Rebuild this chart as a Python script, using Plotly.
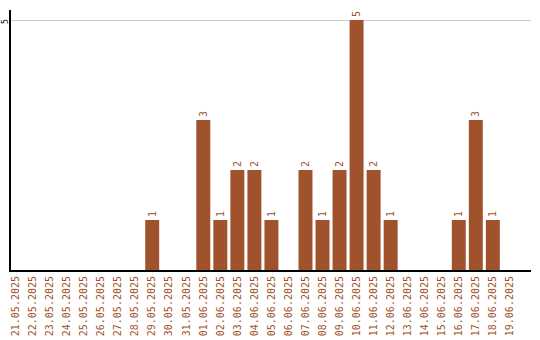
import plotly.graph_objects as go

dates = ["21.05.2025", "22.05.2025", "23.05.2025", "24.05.2025", "25.05.2025",
         "26.05.2025", "27.05.2025", "28.05.2025", "29.05.2025", "30.05.2025",
         "31.05.2025", "01.06.2025", "02.06.2025", "03.06.2025", "04.06.2025",
         "05.06.2025", "06.06.2025", "07.06.2025", "08.06.2025", "09.06.2025",
         "10.06.2025", "11.06.2025", "12.06.2025", "13.06.2025", "14.06.2025",
         "15.06.2025", "16.06.2025", "17.06.2025", "18.06.2025", "19.06.2025"]
counts = [0, 0, 0, 0, 0, 0, 0, 0, 1, 0,
          0, 3, 1, 2, 2, 1, 0, 2, 1, 2,
          5, 2, 1, 0, 0, 0, 1, 3, 1, 0]
y_ticks = [5]

labels = [str(v) if v else "" for v in counts]
color = "#A0522D"
font = "DejaVu Sans Mono"

fig = go.Figure(go.Bar(
    x=dates, y=counts, text=labels, textposition="outside", textangle=-90,
    textfont=dict(family=font, size=10, color=color),
    marker=dict(color=color, line=dict(width=0)), width=0.82, cliponaxis=False,
))

for t in y_ticks:
    fig.add_annotation(x=0, xref="paper", y=t, yref="y", text=str(t),
                       showarrow=False, textangle=-90, xanchor="center",
                       yanchor="middle", xshift=-6, yshift=-2,
                       font=dict(family=font, size=8, color="black"))

fig.update_layout(
    width=540, height=340, margin=dict(l=11, r=9, t=10, b=70),
    paper_bgcolor="white", plot_bgcolor="white", showlegend=False,
    xaxis=dict(type="category", range=[-0.29, 30.24], tickangle=-90,
               tickfont=dict(family=font, size=10, color=color),
               showline=True, linecolor="black", linewidth=2, showgrid=False,
               ticks="", zeroline=False, automargin=False),
    yaxis=dict(range=[0, 5.2], tickvals=y_ticks, showticklabels=False,
               showline=True, linecolor="black", linewidth=2,
               showgrid=True, gridcolor="#cccccc", gridwidth=1,
               zeroline=False, ticks="", automargin=False),
)

fig.write_html("out.html")
